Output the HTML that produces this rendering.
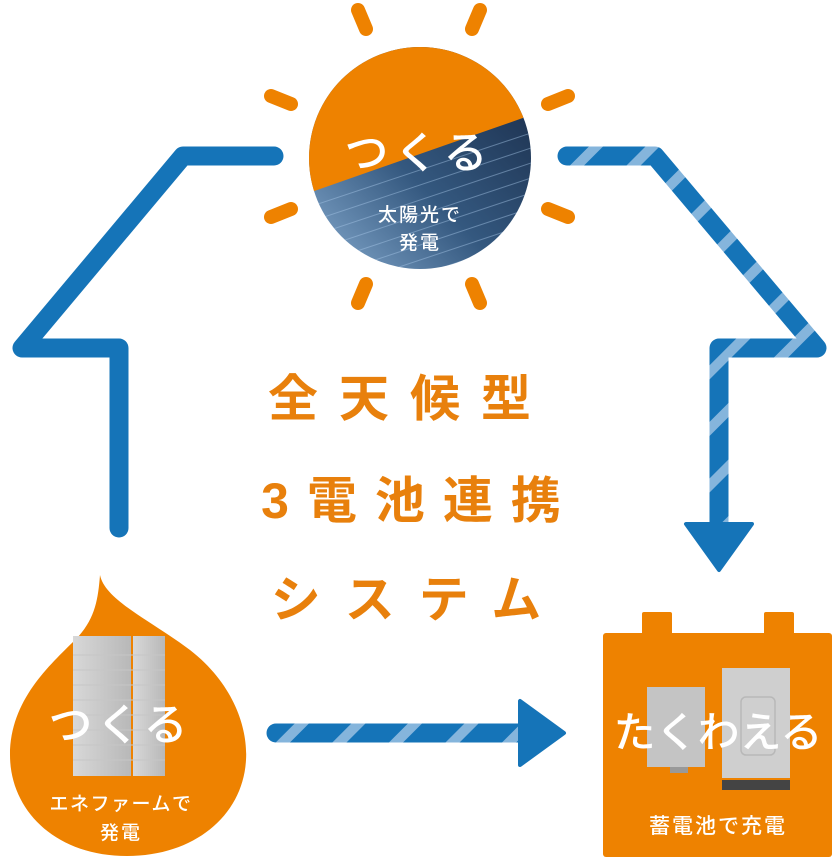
<!DOCTYPE html>
<html><head><meta charset="utf-8"><style>
html,body{margin:0;padding:0;background:#fff;}
body{width:834px;height:860px;overflow:hidden;position:relative;font-family:"Liberation Sans","Noto Sans CJK JP",sans-serif;}
svg{position:absolute;left:0;top:0;}
</style></head><body>
<svg width="834" height="860" viewBox="0 0 834 860" xmlns="http://www.w3.org/2000/svg">
<defs>
<pattern id="st" patternUnits="userSpaceOnUse" width="40" height="40" patternTransform="rotate(45)">
<rect width="40" height="40" fill="#1574b8"/>
<rect width="10" height="40" fill="#85b5dc"/>
</pattern>
<clipPath id="sc"><circle cx="420" cy="158" r="111"/></clipPath>
<linearGradient id="pv" x1="0" y1="1" x2="1" y2="0">
<stop offset="0" stop-color="#8fb4d8"/><stop offset="0.45" stop-color="#34587f"/><stop offset="1" stop-color="#152540"/>
</linearGradient>
<linearGradient id="ap" x1="0" y1="0" x2="1" y2="0">
<stop offset="0" stop-color="#d8d8d8"/><stop offset="1" stop-color="#b8b8b8"/>
</linearGradient>
</defs>

<polyline points="274,156 183,156 22,348 119,348 119,528" fill="none" stroke="#1574b8" stroke-width="19" stroke-linecap="round" stroke-linejoin="round"/>

<polyline points="567,156 655,156 817,348 719,348 719,526" fill="none" stroke="url(#st)" stroke-width="19" stroke-linecap="round" stroke-linejoin="round"/>
<polygon points="686,524 752,524 719,570" fill="#1574b8" stroke="#1574b8" stroke-width="4" stroke-linejoin="round"/>

<line x1="276" y1="733" x2="524" y2="733" stroke="url(#st)" stroke-width="19" stroke-linecap="round"/>
<polygon points="520,701 520,765 564,733" fill="#1574b8" stroke="#1574b8" stroke-width="4" stroke-linejoin="round"/>

<g stroke="#ee8200" stroke-width="14" stroke-linecap="round">
<line x1="358" y1="10" x2="366" y2="29"/>
<line x1="480" y1="10" x2="472" y2="29"/>
<line x1="271" y1="96" x2="291" y2="104"/>
<line x1="568" y1="96" x2="548" y2="104"/>
<line x1="271" y1="217" x2="291" y2="209"/>
<line x1="568" y1="217" x2="548" y2="209"/>
<line x1="358" y1="303" x2="366" y2="284"/>
<line x1="480" y1="303" x2="472" y2="284"/>
</g>
<g clip-path="url(#sc)">
<rect x="300" y="40" width="240" height="240" fill="url(#pv)"/>
<g stroke="#a8c8e8" stroke-width="1" opacity="0.45">
<line x1="300" y1="210" x2="540" y2="130"/><line x1="300" y1="225" x2="540" y2="145"/>
<line x1="300" y1="240" x2="540" y2="160"/><line x1="300" y1="255" x2="540" y2="175"/>
<line x1="300" y1="270" x2="540" y2="190"/><line x1="300" y1="285" x2="540" y2="205"/>
<line x1="300" y1="300" x2="540" y2="220"/><line x1="300" y1="315" x2="540" y2="235"/>
</g>
<polygon points="300,40 540,40 540,112 300,196" fill="#ee8200"/>
</g>
<text x="419" y="168" text-anchor="middle" fill="#fff" font-size="44" font-weight="500" letter-spacing="6">つくる</text>
<text x="420" y="221" text-anchor="middle" fill="#fff" font-size="19" font-weight="500" letter-spacing="2">太陽光で</text>
<text x="420" y="249" text-anchor="middle" fill="#fff" font-size="19" font-weight="500" letter-spacing="2">発電</text>

<g fill="#e8800c" font-size="50" font-weight="700" text-anchor="middle">
<text x="410" y="416" letter-spacing="21">全天候型</text>
<text x="420" y="518" letter-spacing="18">3電池連携</text>
<text x="418" y="617" letter-spacing="24">システム</text>
</g>

<path d="M100,575 C105,600 150,620 190,650 C235,685 248,730 246,760 C243,815 195,856 127,856 C55,856 10,810 10,755 C10,700 50,665 75,640 C95,620 98,600 100,575 Z" fill="#ee8200"/>
<rect x="73" y="636" width="58" height="140" fill="url(#ap)"/>
<rect x="133" y="636" width="32" height="140" fill="url(#ap)"/>
<g stroke="#c6c6c6" stroke-width="1">
<line x1="73" y1="655" x2="165" y2="655"/><line x1="73" y1="670" x2="165" y2="670"/>
<line x1="73" y1="685" x2="165" y2="685"/><line x1="73" y1="700" x2="165" y2="700"/>
<line x1="73" y1="715" x2="165" y2="715"/><line x1="73" y1="730" x2="165" y2="730"/>
<line x1="73" y1="745" x2="165" y2="745"/><line x1="73" y1="760" x2="165" y2="760"/>
</g>
<text x="120" y="740" text-anchor="middle" fill="#fff" font-size="44" font-weight="500" letter-spacing="4">つくる</text>
<text x="121" y="810" text-anchor="middle" fill="#fff" font-size="19" font-weight="500" letter-spacing="1.5">エネファームで</text>
<text x="121" y="839" text-anchor="middle" fill="#fff" font-size="19" font-weight="500" letter-spacing="2">発電</text>

<rect x="642" y="612" width="30" height="25" rx="2" fill="#ee8200"/>
<rect x="764" y="612" width="30" height="25" rx="2" fill="#ee8200"/>
<rect x="603" y="633" width="229" height="224" rx="3" fill="#ee8200"/>
<rect x="647" y="687" width="58" height="80" fill="#c4c4c4"/>
<rect x="670" y="767" width="18" height="6" fill="#999"/>
<rect x="722" y="668" width="68" height="110" fill="#cfcfcf"/>
<rect x="741" y="697" width="34" height="58" rx="5" fill="none" stroke="#b8b8b8" stroke-width="1.5"/>
<rect x="722" y="780" width="68" height="10" fill="#444"/>
<text x="718" y="747" text-anchor="middle" fill="#fff" font-size="42" font-weight="500">たくわえる</text>
<text x="718" y="833" text-anchor="middle" fill="#fff" font-size="21" font-weight="500" letter-spacing="2">蓄電池で充電</text>
</svg>
</body></html>
